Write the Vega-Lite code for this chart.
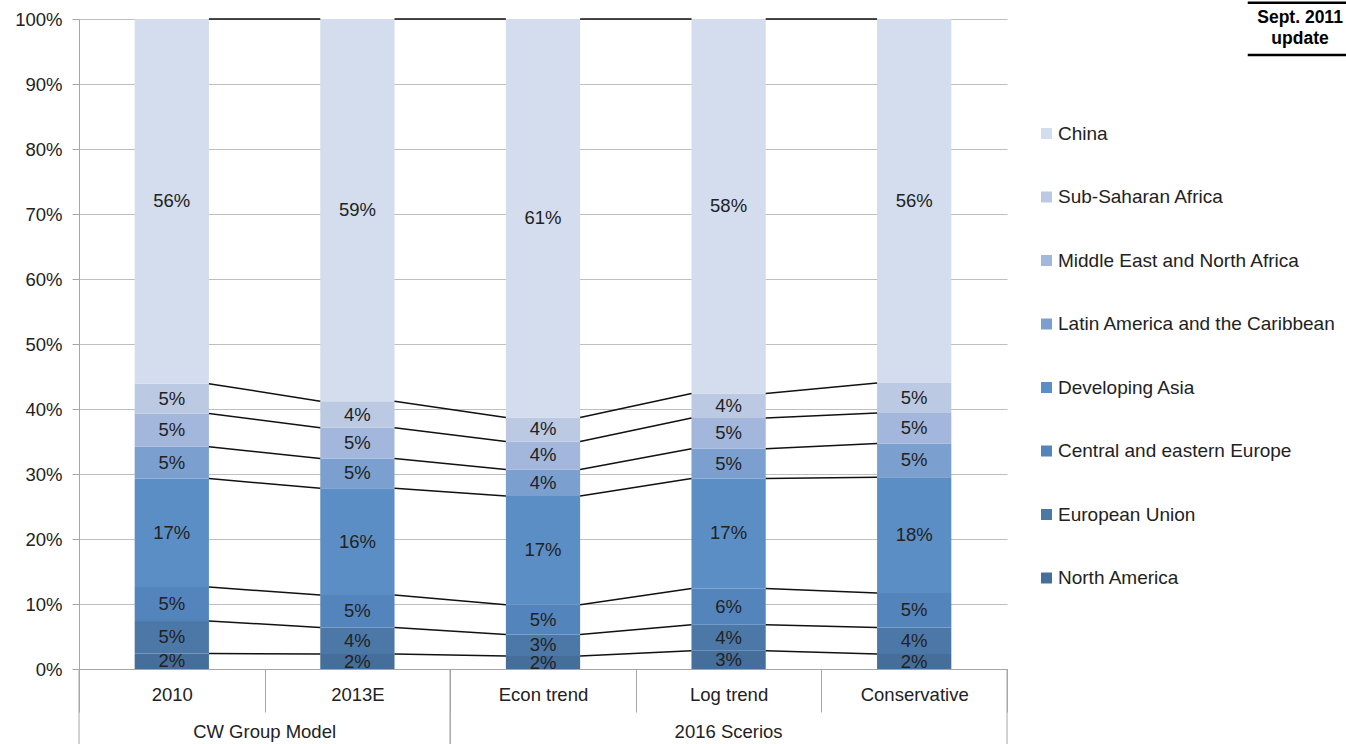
{
  "$schema": "https://vega.github.io/schema/vega-lite/v6.json",
  "width": 928,
  "height": 650,
  "autosize": {"type": "none"},
  "padding": {"left": 79, "top": 19, "right": 339, "bottom": 75},
  "background": "white",
  "config": {
    "font": "Liberation Sans",
    "view": {"stroke": null},
    "axis": {"labelFont": "Liberation Sans", "labelColor": "#222222", "labelFontSize": 18.5}
  },
  "datasets": {
    "shares": [
      {"cat": "2010", "region": "North America", "value": 0.024},
      {"cat": "2010", "region": "European Union", "value": 0.050},
      {"cat": "2010", "region": "Central and eastern Europe", "value": 0.052},
      {"cat": "2010", "region": "Developing Asia", "value": 0.167},
      {"cat": "2010", "region": "Latin America and the Caribbean", "value": 0.049},
      {"cat": "2010", "region": "Middle East and North Africa", "value": 0.051},
      {"cat": "2010", "region": "Sub-Saharan Africa", "value": 0.046},
      {"cat": "2010", "region": "China", "value": 0.561},
      {"cat": "2013E", "region": "North America", "value": 0.023},
      {"cat": "2013E", "region": "European Union", "value": 0.041},
      {"cat": "2013E", "region": "Central and eastern Europe", "value": 0.050},
      {"cat": "2013E", "region": "Developing Asia", "value": 0.164},
      {"cat": "2013E", "region": "Latin America and the Caribbean", "value": 0.046},
      {"cat": "2013E", "region": "Middle East and North Africa", "value": 0.047},
      {"cat": "2013E", "region": "Sub-Saharan Africa", "value": 0.041},
      {"cat": "2013E", "region": "China", "value": 0.588},
      {"cat": "Econ trend", "region": "North America", "value": 0.020},
      {"cat": "Econ trend", "region": "European Union", "value": 0.033},
      {"cat": "Econ trend", "region": "Central and eastern Europe", "value": 0.046},
      {"cat": "Econ trend", "region": "Developing Asia", "value": 0.167},
      {"cat": "Econ trend", "region": "Latin America and the Caribbean", "value": 0.041},
      {"cat": "Econ trend", "region": "Middle East and North Africa", "value": 0.043},
      {"cat": "Econ trend", "region": "Sub-Saharan Africa", "value": 0.037},
      {"cat": "Econ trend", "region": "China", "value": 0.613},
      {"cat": "Log trend", "region": "North America", "value": 0.028},
      {"cat": "Log trend", "region": "European Union", "value": 0.040},
      {"cat": "Log trend", "region": "Central and eastern Europe", "value": 0.056},
      {"cat": "Log trend", "region": "Developing Asia", "value": 0.169},
      {"cat": "Log trend", "region": "Latin America and the Caribbean", "value": 0.046},
      {"cat": "Log trend", "region": "Middle East and North Africa", "value": 0.047},
      {"cat": "Log trend", "region": "Sub-Saharan Africa", "value": 0.038},
      {"cat": "Log trend", "region": "China", "value": 0.576},
      {"cat": "Conservative", "region": "North America", "value": 0.023},
      {"cat": "Conservative", "region": "European Union", "value": 0.041},
      {"cat": "Conservative", "region": "Central and eastern Europe", "value": 0.053},
      {"cat": "Conservative", "region": "Developing Asia", "value": 0.178},
      {"cat": "Conservative", "region": "Latin America and the Caribbean", "value": 0.052},
      {"cat": "Conservative", "region": "Middle East and North Africa", "value": 0.047},
      {"cat": "Conservative", "region": "Sub-Saharan Africa", "value": 0.046},
      {"cat": "Conservative", "region": "China", "value": 0.560}
    ],
    "groups": [
      {"group": "CW Group Model", "first": "2010", "last": "2013E", "mid": "2013E"},
      {"group": "2016 Scerios", "first": "Econ trend", "last": "Conservative", "mid": "Log trend"}
    ],
    "note": [
      {"note": "Sept. 2011\nupdate"}
    ]
  },
  "data": {"name": "shares"},
  "transform": [
    {"calculate": "indexof(['North America','European Union','Central and eastern Europe','Developing Asia','Latin America and the Caribbean','Middle East and North Africa','Sub-Saharan Africa','China'], datum.region)", "as": "k"},
    {"calculate": "indexof(['2010','2013E','Econ trend','Log trend','Conservative'], datum.cat)", "as": "ci"},
    {"window": [{"op": "sum", "field": "value", "as": "cum"}], "groupby": ["cat"], "sort": [{"field": "k", "order": "ascending"}], "frame": [null, 0]}
  ],
  "layer": [
    {
      "mark": {"type": "bar", "width": {"band": 0.4}},
      "encoding": {
        "x": {
          "field": "cat", "type": "nominal",
          "scale": {"domain": ["2010", "2013E", "Econ trend", "Log trend", "Conservative"], "paddingInner": 0, "paddingOuter": 0},
          "axis": {
            "title": null, "labelAngle": 0, "grid": false,
            "domainColor": "#A6A6A6", "tickColor": "#A6A6A6",
            "tickBand": "extent", "tickSize": 43, "labelPadding": -27
          }
        },
        "y": {
          "field": "value", "type": "quantitative", "stack": "zero",
          "scale": {"domain": [0, 1], "nice": false},
          "axis": {
            "title": null, "format": ".0%", "values": [0, 0.1, 0.2, 0.3, 0.4, 0.5, 0.6, 0.7, 0.8, 0.9, 1],
            "gridColor": "#BFBFBF", "domainColor": "#A6A6A6", "tickColor": "#A6A6A6",
            "tickSize": 7, "labelPadding": 10
          }
        },
        "color": {
          "field": "region", "type": "nominal",
          "scale": {
            "domain": ["China", "Sub-Saharan Africa", "Middle East and North Africa", "Latin America and the Caribbean", "Developing Asia", "Central and eastern Europe", "European Union", "North America"],
            "range": ["#D3DDED", "#BBCAE2", "#A3B7DC", "#7BA0CF", "#5B8EC4", "#5384BB", "#4C78A8", "#466E9A"]
          },
          "legend": {
            "title": null, "orient": "none", "legendX": 958, "legendY": 105,
            "symbolType": "square", "symbolSize": 121, "symbolStrokeWidth": 0,
            "labelFontSize": 19, "labelFont": "Liberation Sans", "labelColor": "#222222",
            "labelOffset": 2, "labelLimit": 400, "rowPadding": 43.5, "padding": 0
          }
        },
        "order": {"field": "k", "type": "quantitative", "sort": "ascending"}
      }
    },
    {
      "transform": [
        {"window": [{"op": "lead", "field": "cum", "as": "nextCum"}, {"op": "lead", "field": "cat", "as": "nextCat"}], "groupby": ["region"], "sort": [{"field": "ci", "order": "ascending"}]},
        {"filter": "datum.nextCat != null"}
      ],
      "mark": {"type": "rule", "color": "#111111", "strokeWidth": 1.5},
      "encoding": {
        "x": {"field": "cat", "type": "nominal", "bandPosition": 0.7},
        "x2": {"field": "nextCat", "bandPosition": 0.3},
        "y": {"field": "cum", "type": "quantitative"},
        "y2": {"field": "nextCum"}
      }
    },
    {
      "transform": [
        {"calculate": "datum.cum - datum.value / 2", "as": "mid"}
      ],
      "mark": {"type": "text", "fontSize": 18.5, "color": "#222222", "baseline": "middle", "align": "center", "clip": true},
      "encoding": {
        "x": {"field": "cat", "type": "nominal", "bandPosition": 0.5},
        "y": {"field": "mid", "type": "quantitative"},
        "text": {"field": "value", "type": "quantitative", "format": ".0%"}
      }
    },
    {
      "data": {"name": "groups"},
      "mark": {"type": "rule", "color": "#A6A6A6", "strokeWidth": 1},
      "encoding": {
        "x": {"field": "first", "type": "nominal", "bandPosition": 0},
        "y": {"datum": 0, "type": "quantitative"},
        "y2": {"datum": -0.1154}
      }
    },
    {
      "data": {"name": "groups"},
      "mark": {"type": "rule", "color": "#A6A6A6", "strokeWidth": 1},
      "encoding": {
        "x": {"field": "last", "type": "nominal", "bandPosition": 1},
        "y": {"datum": 0, "type": "quantitative"},
        "y2": {"datum": -0.1154}
      }
    },
    {
      "data": {"name": "groups"},
      "transform": [{"filter": "datum.group == 'CW Group Model'"}],
      "mark": {"type": "text", "fontSize": 18.5, "color": "#222222", "baseline": "alphabetic", "align": "center"},
      "encoding": {
        "x": {"field": "mid", "type": "nominal", "bandPosition": 0},
        "y": {"datum": -0.106, "type": "quantitative"},
        "text": {"field": "group"}
      }
    },
    {
      "data": {"name": "groups"},
      "transform": [{"filter": "datum.group == '2016 Scerios'"}],
      "mark": {"type": "text", "fontSize": 18.5, "color": "#222222", "baseline": "alphabetic", "align": "center"},
      "encoding": {
        "x": {"field": "mid", "type": "nominal", "bandPosition": 0.5},
        "y": {"datum": -0.106, "type": "quantitative"},
        "text": {"field": "group"}
      }
    },
    {
      "data": {"name": "note"},
      "mark": {"type": "text", "fontSize": 17.5, "fontWeight": "bold", "color": "#000000", "baseline": "alphabetic", "align": "center", "lineBreak": "\n", "lineHeight": 21},
      "encoding": {
        "x": {"datum": "Conservative", "type": "nominal", "bandPosition": 2.579},
        "y": {"datum": 0.9939, "type": "quantitative"},
        "text": {"field": "note"}
      }
    },
    {
      "data": {"name": "note"},
      "mark": {"type": "rule", "color": "#000000", "strokeWidth": 2.5},
      "encoding": {
        "x": {"datum": "Conservative", "type": "nominal", "bandPosition": 2.297},
        "x2": {"datum": "Conservative", "bandPosition": 2.9},
        "y": {"datum": 1.0251, "type": "quantitative"}
      }
    },
    {
      "data": {"name": "note"},
      "mark": {"type": "rule", "color": "#000000", "strokeWidth": 2.5},
      "encoding": {
        "x": {"datum": "Conservative", "type": "nominal", "bandPosition": 2.297},
        "x2": {"datum": "Conservative", "bandPosition": 2.9},
        "y": {"datum": 0.9447, "type": "quantitative"}
      }
    }
  ]
}
